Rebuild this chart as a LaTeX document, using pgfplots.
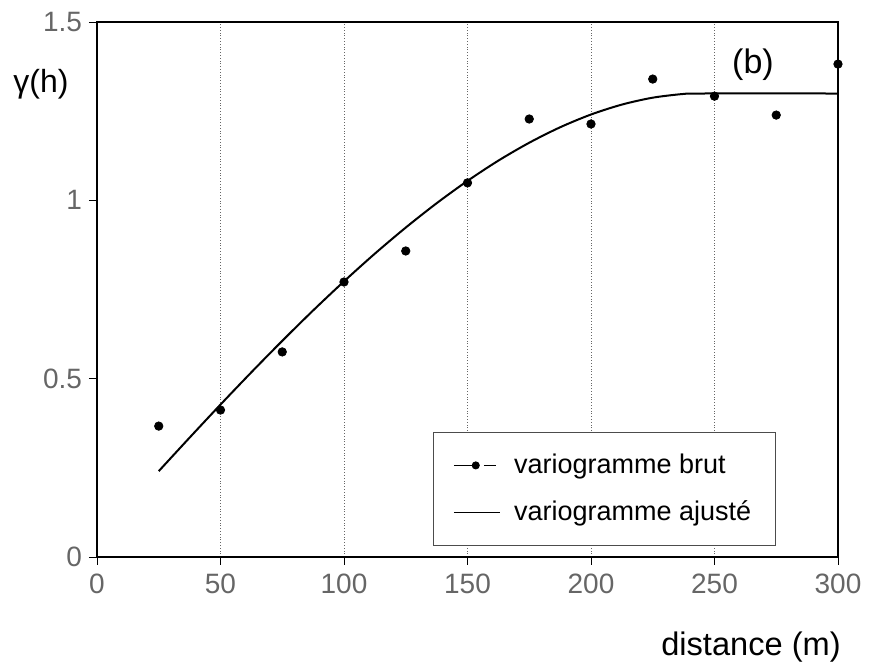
\documentclass[border=0pt]{standalone}
\usepackage{pgfplots}
\pgfplotsset{compat=1.18}
\usepackage{fontspec}
\setmainfont{Liberation Sans}
\begin{document}
\begin{tikzpicture}
\useasboundingbox (-48.5pt,-56pt) rectangle (389pt,278.5pt);
\begin{axis}[
  scale only axis,
  width=370.5pt, height=267.5pt,
  at={(0,0)}, anchor=south west,
  xmin=0, xmax=300, ymin=0, ymax=1.5,
  xtick={0,50,...,300},
  ytick={0,0.5,1,1.5},
  yticklabels={0,0.5,1,1.5},
  xtick pos=bottom, ytick pos=left,
  tick align=outside,
  major tick length=4pt,
  tick style={black, thin},
  /pgf/number format/assume math mode=true,
  ticklabel style={font=\fontsize{14}{16}\selectfont, text=black!60},
  xticklabel style={yshift=-1pt},
  axis line style={black, line width=1.3pt},
  xmajorgrids,
  x grid style={black!60, densely dotted, thin},
  clip=false,
  legend style={
    at={(0.4534,0.0206)}, anchor=south west,
    draw=black!70, thin,
    font=\fontsize{13.5}{16}\selectfont,
    row sep=8pt,
    inner xsep=10pt, inner ysep=9pt,
    cells={anchor=west},
    /tikz/every odd column/.append style={column sep=5pt},
  },
  legend cell align=left,
]
\addplot[only marks, mark=*, mark size=2.1pt, black,
  legend image code/.code={
    \draw[black, thin] (0pt,0pt) -- (10pt,0pt);
    \draw[black, thin] (15pt,0pt) -- (21pt,0pt);
    \fill[black] (11pt,0pt) circle (1.8pt);
  }]
  coordinates {
  (25,0.367) (50,0.412) (75,0.575) (100,0.771) (125,0.858) (150,1.049)
  (175,1.228) (200,1.214) (225,1.340) (250,1.292) (275,1.239) (300,1.382)
  };
\addlegendentry{variogramme brut}
\addplot[black, line width=1pt, smooth, mark=none,
  legend image code/.code={
    \draw[black, thin] (0pt,0pt) -- (23pt,0pt);
  }]
  coordinates {
  (25,0.2407) (37.5,0.3347) (50,0.4273) (62.5,0.5179) (75,0.6060)
  (87.5,0.6912) (100,0.7728) (112.5,0.8505) (125,0.9236) (137.5,0.9918)
  (150,1.0545) (162.5,1.1113) (175,1.1615) (187.5,1.2048) (200,1.2406)
  (212.5,1.2684) (225,1.2878) (237.5,1.2983) (245,1.2995) (300,1.2995)
  };
\addlegendentry{variogramme ajusté}
\node[font=\fontsize{17}{19}\selectfont] at (axis cs:265.6,1.379) {(b)};
\end{axis}
\node[font=\fontsize{16}{18}\selectfont] at (-28pt,236.5pt) {γ(h)};
\node[font=\fontsize{16.3}{18}\selectfont] at (327pt,-45pt) {distance (m)};
\end{tikzpicture}
\end{document}
